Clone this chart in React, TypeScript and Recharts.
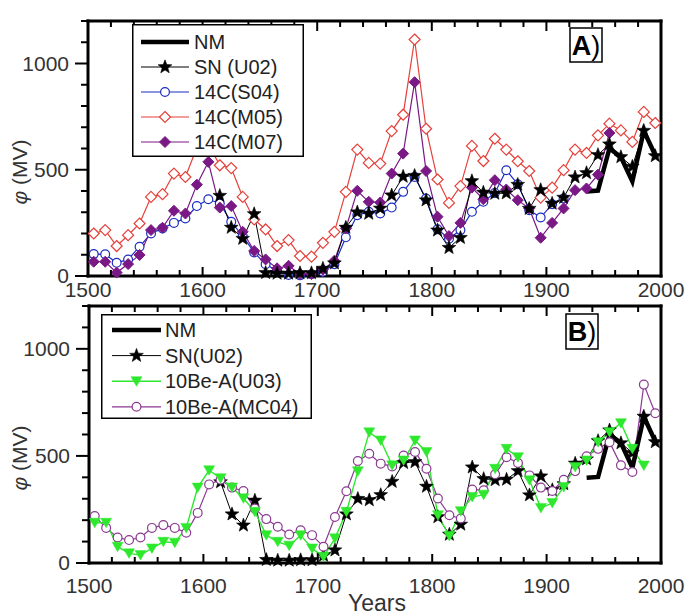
import React from 'react';
import { LineChart, Line, XAxis, YAxis, Legend } from 'recharts';

// decade mid-points
const years = [
  1505, 1515, 1525, 1535, 1545, 1555, 1565, 1575, 1585, 1595,
  1605, 1615, 1625, 1635, 1645, 1655, 1665, 1675, 1685, 1695,
  1705, 1715, 1725, 1735, 1745, 1755, 1765, 1775, 1785, 1795,
  1805, 1815, 1825, 1835, 1845, 1855, 1865, 1875, 1885, 1895,
  1905, 1915, 1925, 1935, 1945, 1955, 1965, 1975, 1985, 1995,
];

const nm = [
  null, null, null, null, null, null, null, null, null, null,
  null, null, null, null, null, null, null, null, null, null,
  null, null, null, null, null, null, null, null, null, null,
  null, null, null, null, null, null, null, null, null, null,
  null, null, null, 398, 402, 600, 560, 445, 683, 568,
];

const snU02 = [
  null, null, null, null, null, null, null, null, null, null,
  null, 378, 228, 176, 292, 15, 12, 12, 14, 14,
  35, 60, 228, 300, 294, 318, 380, 468, 472, 357,
  215, 133, 180, 447, 393, 388, 390, 430, 317, 405,
  341, 369, 465, 485, 570, 620, 560, 515, 684, 565,
];

const c14S04 = [
  103, 102, 62, 78, 138, 200, 224, 250, 271, 329,
  361, 341, 255, 188, 111, 55, 25, 5, 3, 8,
  20, 55, 182, 286, 302, 294, 322, 396, 466, 365,
  220, 175, 216, 302, 349, 391, 498, 432, 310, 275,
  338, 365, null, null, null, null, null, null, null, null,
];

const c14M05 = [
  200, 216, 141, 192, 247, 372, 385, 482, 466, 605,
  620, 521, 508, 372, 266, 219, 141, 169, 94, 91,
  156, 208, 396, 595, 532, 529, 682, 759, 1113, 693,
  454, 344, 423, 612, 541, 646, 595, 540, 494, 369,
  416, 498, 595, 579, 662, 717, 685, 631, 772, 720,
];

const c14M07 = [
  67, 67, 16, 56, 99, 216, 227, 307, 294, 430,
  537, 322, 329, 208, 118, 78, 36, 48, 9, 9,
  30, 72, 224, 401, 349, 346, 482, 576, 912, 494,
  279, 188, 250, 416, 361, 451, 407, 357, 318, 180,
  250, 318, 404, 412, 477, 673, null, null, null, null,
];

const be10U03 = [
  188, 188, 76, 45, 37, 68, 99, 95, 164, 352,
  433, 396, 353, 302, 239, 130, 99, 81, 130, 68,
  29, 115, 239, 428, 610, 572, 456, 479, 572, 518,
  223, 126, 242, 308, 319, 440, 533, 494, 386, 257,
  280, 355, 448, 479, 564, 611, 653, 533, 455, null,
];

const be10MC04 = [
  219, 164, 119, 107, 119, 164, 177, 164, 141, 234,
  367, 389, 352, 336, 254, 205, 169, 133, 153, 130,
  76, 215, 335, 476, 510, 464, 451, 502, 518, 440,
  301, 223, 208, 343, 340, 414, 494, 467, 409, 352,
  336, 389, 429, 498, 533, 564, 456, 425, 833, 699,
];

const xTicks = [
  1500, 1520, 1540, 1560, 1580, 1600, 1620, 1640, 1660, 1680, 1700, 1720, 1740,
  1760, 1780, 1800, 1820, 1840, 1860, 1880, 1900, 1920, 1940, 1960, 1980, 2000,
];
const yTicks = [0, 100, 200, 300, 400, 500, 600, 700, 800, 900, 1000, 1100, 1200];

const FONT = '"Liberation Sans", Arial, Helvetica, sans-serif';
const frameLine: any = { stroke: '#000', strokeWidth: 3, strokeLinecap: 'square' };

type MarkerKind = 'none' | 'star' | 'circle' | 'diamond' | 'diamondFilled' | 'triangle';

interface Series {
  key: string;
  name: string;
  values: (number | null)[];
  color: string;
  width: number;
  marker: MarkerKind;
}

function starPath(cx: number, cy: number, R: number, r: number) {
  let d = '';
  for (let i = 0; i < 10; i++) {
    const a = -Math.PI / 2 + (i * Math.PI) / 5;
    const rad = i % 2 === 0 ? R : r;
    d += (i ? 'L' : 'M') + (cx + rad * Math.cos(a)).toFixed(2) + ',' + (cy + rad * Math.sin(a)).toFixed(2);
  }
  return d + 'Z';
}

function Marker({ kind, cx, cy, color }: { kind: MarkerKind; cx: number; cy: number; color: string }) {
  const s = 5.5;
  switch (kind) {
    case 'star':
      return <path d={starPath(cx, cy, 7.2, 3)} fill="#000" stroke="#000" strokeWidth={0.6} />;
    case 'circle':
      return <circle cx={cx} cy={cy} r={4.4} fill="#fff" stroke={color} strokeWidth={1.2} />;
    case 'diamond':
      return (
        <path d={`M${cx},${cy - s}L${cx + s},${cy}L${cx},${cy + s}L${cx - s},${cy}Z`} fill="#fff" stroke={color} strokeWidth={1.2} />
      );
    case 'diamondFilled':
      return <path d={`M${cx},${cy - s}L${cx + s},${cy}L${cx},${cy + s}L${cx - s},${cy}Z`} fill={color} stroke={color} />;
    case 'triangle':
      return <path d={`M${cx - 5.5},${cy - 4.5}L${cx + 5.5},${cy - 4.5}L${cx},${cy + 5}Z`} fill={color} stroke={color} strokeWidth={0.5} />;
    default:
      return null;
  }
}

const renderDot = (s: Series) => (p: any) => {
  if (p.cy == null || p.value == null || isNaN(p.cy)) return <g key={`e-${s.key}-${p.index}`} />;
  return (
    <g key={`d-${s.key}-${p.index}`}>
      <Marker kind={s.marker} cx={p.cx} cy={p.cy} color={s.color} />
    </g>
  );
};

const BottomTick = (p: any) => {
  const major = p.payload.value % 100 === 0;
  return (
    <g>
      <line x1={p.x} x2={p.x} y1={p.y} y2={p.y - (major ? 9 : 6)} stroke="#000" strokeWidth={2} />
      {major && (
        <text x={p.x} y={p.y + p.dy} textAnchor="middle" fontSize={21} fill="#333" fontFamily={FONT}>
          {p.payload.value}
        </text>
      )}
    </g>
  );
};

const TopTick = (p: any) => {
  const major = p.payload.value % 100 === 0;
  return <line x1={p.x} x2={p.x} y1={p.y} y2={p.y + (major ? 10 : 6)} stroke="#000" strokeWidth={2} />;
};

const LeftTick = (p: any) => {
  const v = p.payload.value;
  const major = v % 500 === 0;
  return (
    <g>
      <line x1={p.x} x2={p.x - (major ? 13 : 7)} y1={p.y} y2={p.y} stroke="#000" strokeWidth={2} />
      {major && (
        <text x={p.x - 19} y={p.y + 7} textAnchor="end" fontSize={21} fill="#333" fontFamily={FONT}>
          {v}
        </text>
      )}
    </g>
  );
};

const RightTick = (p: any) => {
  const major = p.payload.value % 500 === 0;
  return <line x1={p.x} x2={p.x - (major ? 10 : 7)} y1={p.y} y2={p.y} stroke="#000" strokeWidth={2} />;
};

function LegendBox({ items, width, height, rowTop, step, lineX1, lineX2, textX }: any) {
  return (
    <svg width={width} height={height} style={{ display: 'block' }}>
      <rect x={0.75} y={0.75} width={width - 1.5} height={height - 1.5} fill="#fff" stroke="#000" strokeWidth={1.5} />
      {items.map((s: Series, i: number) => {
        const cy = rowTop + i * step;
        return (
          <g key={s.key}>
            <line x1={lineX1} x2={lineX2} y1={cy} y2={cy} stroke={s.color} strokeWidth={s.width} />
            <Marker kind={s.marker} cx={(lineX1 + lineX2) / 2} cy={cy} color={s.color} />
            <text x={textX} y={cy + 7} fontSize={20} fill="#222" fontFamily={FONT}>
              {s.name}
            </text>
          </g>
        );
      })}
    </svg>
  );
}

function Panel({ height, margin, series, legendItems, legendBox, labelDy }: any) {
  const rows = years.map((year, i) => {
    const r: any = { year };
    series.forEach((s: Series) => {
      r[s.key] = s.values[i];
    });
    return r;
  });
  return (
    <LineChart width={685} height={height} data={rows} margin={margin}>
      <XAxis
        xAxisId="b"
        dataKey="year"
        type="number"
        domain={[1500, 2000]}
        ticks={xTicks}
        interval={0}
        height={1}
        tickSize={0}
        tickMargin={0}
        tickLine={false}
        axisLine={frameLine}
        tick={(p: any) => <BottomTick {...p} dy={labelDy} />}
      />
      <XAxis
        xAxisId="t"
        orientation="top"
        dataKey="year"
        type="number"
        domain={[1500, 2000]}
        ticks={xTicks}
        interval={0}
        height={1}
        tickSize={0}
        tickMargin={0}
        tickLine={false}
        axisLine={frameLine}
        tick={TopTick}
      />
      <YAxis
        yAxisId="l"
        type="number"
        domain={[0, 1200]}
        ticks={yTicks}
        interval={0}
        width={1}
        tickSize={0}
        tickMargin={0}
        tickLine={false}
        axisLine={frameLine}
        tick={LeftTick}
      />
      <YAxis
        yAxisId="r"
        orientation="right"
        type="number"
        domain={[0, 1200]}
        ticks={yTicks}
        interval={0}
        width={1}
        tickSize={0}
        tickMargin={0}
        tickLine={false}
        axisLine={frameLine}
        tick={RightTick}
      />
      {series.map((s: Series) => (
        <Line
          key={s.key}
          xAxisId="b"
          yAxisId="l"
          dataKey={s.key}
          name={s.name}
          stroke={s.color}
          strokeWidth={s.width}
          strokeLinejoin="miter"
          dot={s.marker === 'none' ? false : renderDot(s)}
          activeDot={false}
          isAnimationActive={false}
        />
      ))}
      <Legend
        layout="vertical"
        align="center"
        verticalAlign="middle"
        wrapperStyle={{ left: legendBox.left, top: legendBox.top, width: legendBox.width, height: legendBox.height }}
        content={() => <LegendBox items={legendItems} {...legendBox} />}
      />
    </LineChart>
  );
}

const sNM: Series = { key: 'nm', name: 'NM', values: nm, color: '#000', width: 4.5, marker: 'none' };
const sSN_A: Series = { key: 'sn', name: 'SN (U02)', values: snU02, color: '#000', width: 1, marker: 'star' };
const sSN_B: Series = { key: 'sn', name: 'SN(U02)', values: snU02, color: '#000', width: 1, marker: 'star' };
const sS04: Series = { key: 's04', name: '14C(S04)', values: c14S04, color: '#1b2cc0', width: 1.2, marker: 'circle' };
const sM05: Series = { key: 'm05', name: '14C(M05)', values: c14M05, color: '#e6403a', width: 1.2, marker: 'diamond' };
const sM07: Series = { key: 'm07', name: '14C(M07)', values: c14M07, color: '#7a1886', width: 1.2, marker: 'diamondFilled' };
const sU03: Series = { key: 'u03', name: '10Be-A(U03)', values: be10U03, color: '#2ee82e', width: 1.4, marker: 'triangle' };
const sMC04: Series = { key: 'mc04', name: '10Be-A(MC04)', values: be10MC04, color: '#8a3a90', width: 1.2, marker: 'circle' };

export default function App() {
  return (
    <div
      style={{
        position: 'absolute',
        left: 0,
        top: 0,
        width: 685,
        height: 615,
        background: '#fff',
        overflow: 'hidden',
        fontFamily: FONT,
      }}
    >
      <div style={{ position: 'absolute', left: 0, top: 0 }}>
        <Panel
          height={300}
          margin={{ top: 20, right: 23, bottom: 23, left: 87 }}
          series={[sM05, sS04, sM07, sSN_A, sNM]}
          legendItems={[sNM, sSN_A, sS04, sM05, sM07]}
          legendBox={{ left: 132, top: 24, width: 172, height: 133, rowTop: 18, step: 25, lineX1: 9, lineX2: 57, textX: 62 }}
          labelDy={21}
        />
      </div>
      <div style={{ position: 'absolute', left: 0, top: 300 }}>
        <Panel
          height={315}
          margin={{ top: 5, right: 23, bottom: 51, left: 88 }}
          series={[sSN_B, sMC04, sU03, sNM]}
          legendItems={[sNM, sSN_B, sU03, sMC04]}
          legendBox={{ left: 101, top: 14, width: 211, height: 105, rowTop: 16, step: 25.6, lineX1: 11, lineX2: 60, textX: 64 }}
          labelDy={30}
        />
      </div>
      <svg width={685} height={615} style={{ position: 'absolute', left: 0, top: 0, pointerEvents: 'none' }}>
        <text transform="translate(27,172) rotate(-90)" textAnchor="middle" fontSize={21} fill="#333" fontFamily={FONT}>
          <tspan fontStyle="italic">φ</tspan> (MV)
        </text>
        <text transform="translate(27,458) rotate(-90)" textAnchor="middle" fontSize={21} fill="#333" fontFamily={FONT}>
          <tspan fontStyle="italic">φ</tspan> (MV)
        </text>
        <text x={377} y={611} textAnchor="middle" fontSize={23} fill="#333" fontFamily={FONT}>
          Years
        </text>
        <rect x={570} y={28} width={32} height={34} fill="#fff" stroke="#000" strokeWidth={1.5} />
        <text x={586} y={55} textAnchor="middle" fontSize={27} fill="#000" fontFamily={FONT}>
          <tspan fontWeight="bold">A</tspan>)
        </text>
        <rect x={566} y={314} width={32} height={35} fill="#fff" stroke="#000" strokeWidth={1.5} />
        <text x={582} y={341} textAnchor="middle" fontSize={27} fill="#000" fontFamily={FONT}>
          <tspan fontWeight="bold">B</tspan>)
        </text>
      </svg>
    </div>
  );
}
